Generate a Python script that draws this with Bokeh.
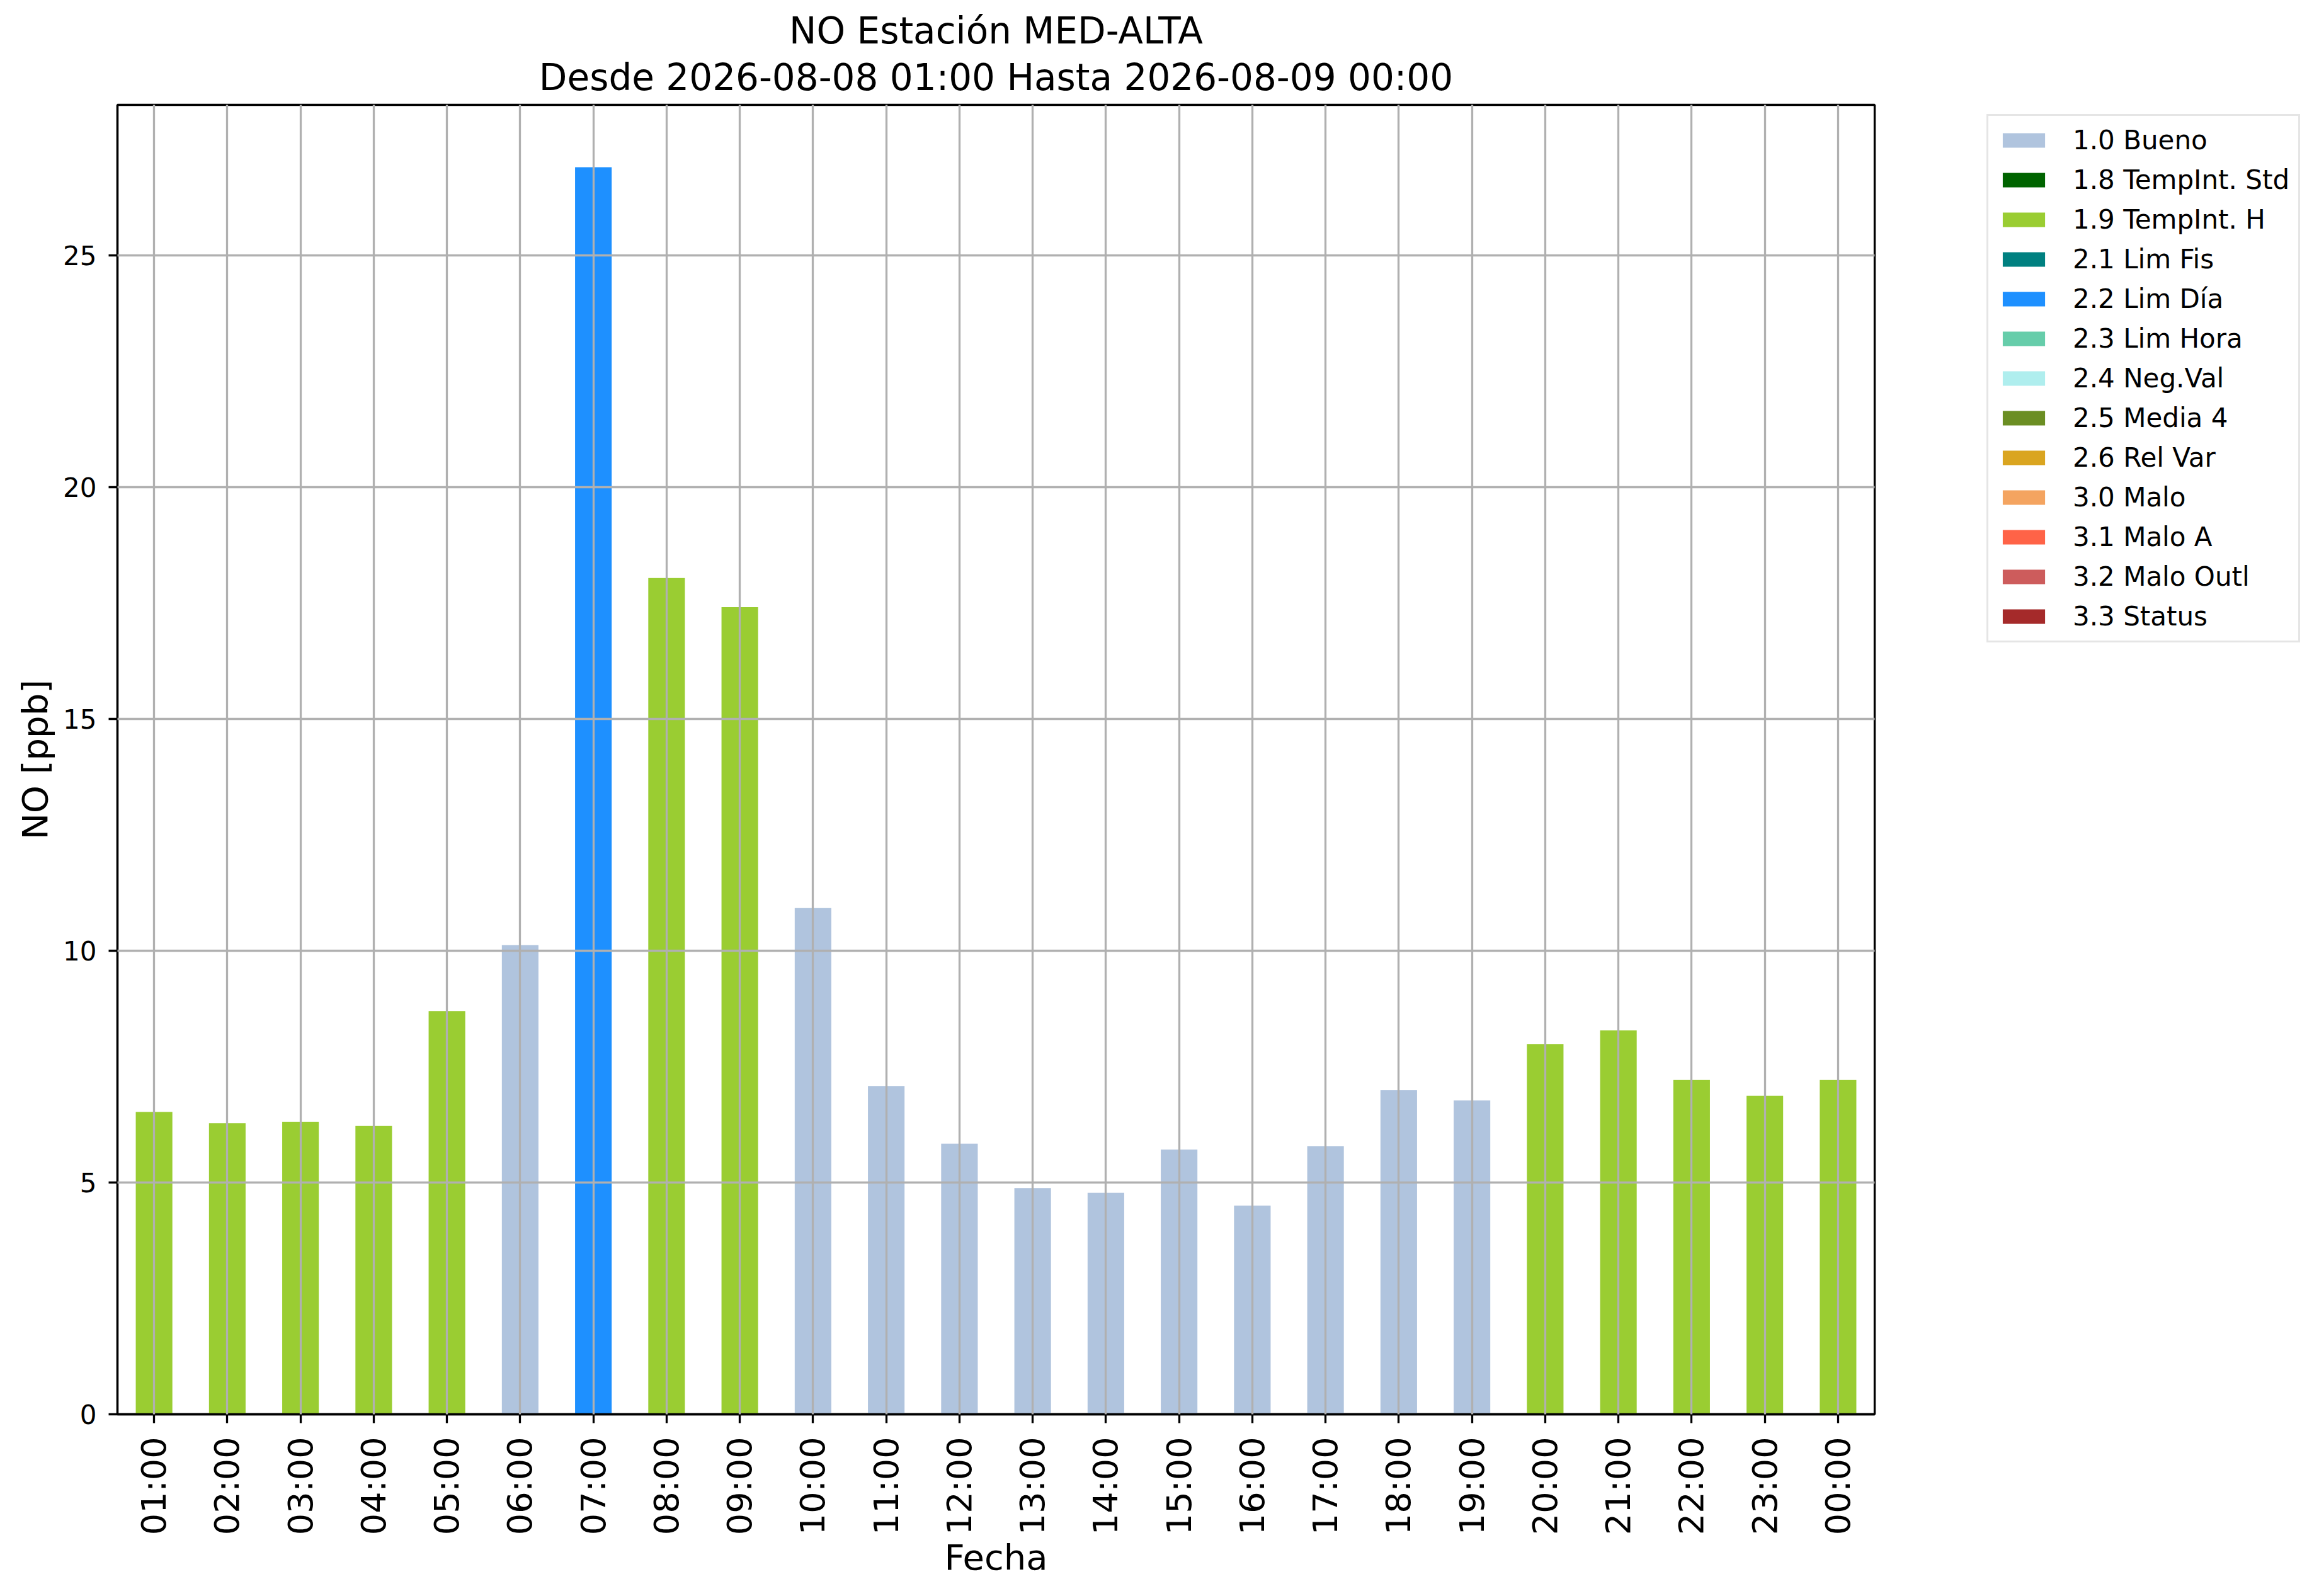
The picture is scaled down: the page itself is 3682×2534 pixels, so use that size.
import math
from bokeh.plotting import figure
from bokeh.models import (Range1d, FactorRange, ColumnDataSource, Legend,
                          LegendItem, Title, FixedTicker)
from bokeh.embed import file_html
from bokeh.resources import INLINE

# ---------------- data ----------------
hours = ["01:00", "02:00", "03:00", "04:00", "05:00", "06:00", "07:00", "08:00",
         "09:00", "10:00", "11:00", "12:00", "13:00", "14:00", "15:00", "16:00",
         "17:00", "18:00", "19:00", "20:00", "21:00", "22:00", "23:00", "00:00"]
values = [6.52, 6.28, 6.31, 6.22, 8.70, 10.12, 26.90, 18.04, 17.41, 10.92, 7.08, 5.84,
          4.88, 4.78, 5.71, 4.50, 5.78, 6.99, 6.77, 7.98, 8.28, 7.21, 6.87, 7.21]
hour_flags = ["1.9 TempInt. H"] * 5 + ["1.0 Bueno", "2.2 Lim Día",
              "1.9 TempInt. H", "1.9 TempInt. H"] + ["1.0 Bueno"] * 10 + ["1.9 TempInt. H"] * 5

flag_labels = ["1.0 Bueno", "1.8 TempInt. Std", "1.9 TempInt. H", "2.1 Lim Fis",
               "2.2 Lim Día", "2.3 Lim Hora", "2.4 Neg.Val", "2.5 Media 4",
               "2.6 Rel Var", "3.0 Malo", "3.1 Malo A", "3.2 Malo Outl", "3.3 Status"]
flag_colors = ["#B0C4DE", "#006400", "#9ACD32", "#008080", "#1E90FF", "#66CDAA",
               "#AFEEEE", "#6B8E23", "#DAA520", "#F4A460", "#FF6347", "#CD5C5C",
               "#A52A2A"]
y_ticks = [0, 5, 10, 15, 20, 25]

title_line1 = "NO Estación MED-ALTA"
title_line2 = "Desde 2026-08-08 01:00 Hasta 2026-08-09 00:00"
x_label = "Fecha"
y_label = "NO [ppb]"

# ---------------- layout constants ----------------
FL, FT = 186, 166
FW, FH = 2790, 2079
BOTTOM = 281
FONT = "DejaVu Sans"
LW = 3.3

ymax = max(values) * 1.05

p = figure(frame_width=FW, frame_height=FH, output_backend="svg", toolbar_location=None,
           x_range=FactorRange(factors=hours, range_padding=0),
           y_range=Range1d(0, ymax),
           min_border_left=FL, min_border_right=0,
           min_border_top=FT, min_border_bottom=BOTTOM,
           background_fill_color="white", border_fill_color="white")

# titles (titles added with add_layout sit closer to the plot)
p.title.text = title_line1
p.title.align = "center"
p.title.text_font = FONT
p.title.text_font_size = "58px"
p.title.text_font_style = "normal"
p.title.text_color = "black"
p.title.standoff = -10
p.add_layout(Title(text=title_line2, align="center", text_font=FONT,
                   text_font_size="58px", text_font_style="normal",
                   text_color="black", standoff=19),
             "above")

# bars: one stacked-style renderer per flag (zero where the flag does not apply)
items = []
for lab, col in zip(flag_labels, flag_colors):
    tops = [v if f == lab else 0.0 for v, f in zip(values, hour_flags)]
    src = ColumnDataSource(data=dict(x=hours, top=tops))
    r = p.vbar(x="x", top="top", width=0.5, bottom=0, source=src,
               fill_color=col, line_color=None)
    items.append(LegendItem(label=lab, renderers=[r]))

# grid on top of the bars
for g in (p.xgrid, p.ygrid):
    g.grid_line_color = "#b0b0b0"
    g.grid_line_width = LW
    g.level = "overlay"
p.ygrid.ticker = FixedTicker(ticks=y_ticks)

# axes
p.yaxis.ticker = FixedTicker(ticks=y_ticks)
p.yaxis.minor_tick_line_color = None
for ax in (p.xaxis, p.yaxis):
    ax.axis_line_width = LW
    ax.axis_line_color = "black"
    ax.major_tick_line_width = LW
    ax.major_tick_line_color = "black"
    ax.major_tick_in = 0
    ax.major_tick_out = 14
    ax.major_label_text_font = FONT
    ax.major_label_text_color = "black"
    ax.axis_label_text_font = FONT
    ax.axis_label_text_font_style = "normal"
    ax.axis_label_text_font_size = "56px"
    ax.axis_label_text_color = "black"

p.yaxis.major_label_text_font_size = "42px"
p.yaxis.major_label_standoff = 19
p.yaxis.axis_label = y_label
p.yaxis.axis_label_standoff = 9

p.xaxis.major_label_text_font_size = "54px"
p.xaxis.major_label_orientation = math.pi / 2
p.xaxis.major_label_standoff = 22
p.xaxis.axis_label = x_label
p.xaxis.axis_label_standoff = 0

p.outline_line_color = "black"
p.outline_line_width = LW
p.outline_line_alpha = 1.0

# legend outside the axes, top aligned a little below the frame top
legend = Legend(items=items, location=(178, FH - 1013 + 158 + 1),
                label_text_font=FONT, label_text_font_size="42px",
                label_text_color="black",
                glyph_width=84, glyph_height=29, label_standoff=36,
                label_height=49, spacing=14, padding=14, margin=0,
                border_line_color="#cccccc", border_line_width=LW,
                background_fill_color="white", background_fill_alpha=1.0)
p.add_layout(legend, "right")

open("out.html", "w").write(file_html(p, INLINE))
